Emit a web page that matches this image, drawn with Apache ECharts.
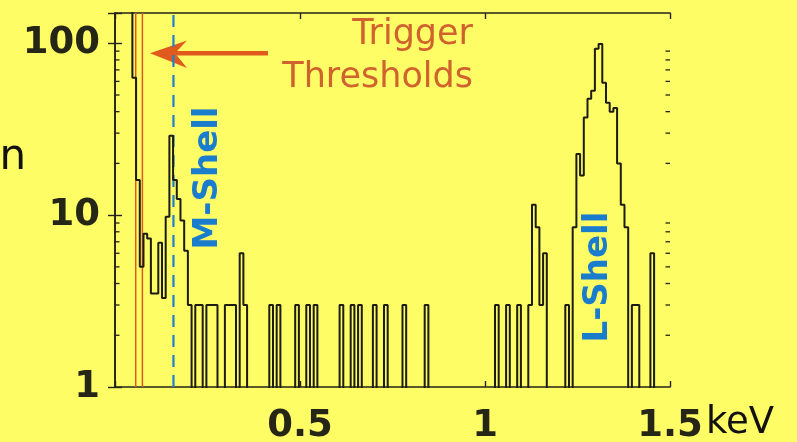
<!DOCTYPE html>
<html>
<head>
<meta charset="utf-8">
<script src="https://cdn.jsdelivr.net/npm/echarts@6/dist/echarts.min.js"></script>
<style>
  html, body { margin: 0; padding: 0; background: #fffd66; }
  #chart { width: 797px; height: 442px; }
</style>
</head>
<body>
<div id="chart"></div>
<script>
// Energy spectrum: counts per 10 eV bin, plotted on a log axis.
const binStartKeV = 0.037;   // left edge of the first bin
const binWidthKeV = 0.01;
const counts = [
  250, 63, 16, 5, 7.8, 7.3, 3.5, 3.5, 6.9, 3.3,          // 0.037 ..
  9.8, 29, 16, 12.4, 9.3, 6.2, 3, 0, 3, 3,               // 0.137 ..
  0, 3, 3, 3, 0, 0, 3, 3, 3, 0,                          // 0.237 ..
  6, 3, 0, 0, 0, 0, 0, 0, 3, 0,                          // 0.337 ..
  3, 0, 0, 0, 0, 3, 0, 0, 3, 0,                          // 0.437 ..
  3, 0, 0, 0, 0, 0, 0, 3, 0, 0,                          // 0.537 ..
  3, 0, 3, 0, 0, 0, 3, 0, 0, 3,                          // 0.637 ..
  0, 0, 0, 0, 3, 0, 0, 0, 0, 0,                          // 0.737 ..
  3, 0, 0, 0, 0, 0, 0, 0, 0, 0,                          // 0.837 ..
  0, 0, 0, 0, 0, 0, 0, 0, 0, 3,                          // 0.937 ..
  0, 0, 3, 0, 0, 3, 0, 0, 3, 11.5,                       // 1.037 ..
  8.5, 3, 6, 0, 0, 0, 0, 0, 3, 0,                        // 1.137 ..
  8.5, 22.7, 17, 37, 47.6, 53, 93, 99, 59, 45,           // 1.237 ..
  40, 42, 20, 11.5, 8.5, 0, 3, 3, 0, 0,                  // 1.337 ..
  0, 6, 0, 0, 0, 0                                       // 1.437 ..
];

const triggerThresholdsKeV = [0.056, 0.074];
const mShellKeV = 0.158;

const xRange = [0, 1.5];
const yRange = [1, 150];
const yMajorTicks = [1, 10, 100];
const yMinorTicks = [2, 3, 4, 5, 6, 7, 8, 9, 20, 30, 40, 50, 60, 70, 80, 90];

// empty bins sit below the log axis and are clipped by the grid
const LOG_FLOOR = 0.3;

const edges = counts.map((_, i) => binStartKeV + i * binWidthKeV);
const stairs = counts.map((c, i) => [edges[i], c > 0 ? c : LOG_FLOOR]);
stairs.push([binStartKeV + counts.length * binWidthKeV, LOG_FLOOR]);

const AXIS_COLOR = '#23231a';
const TICK_FONT = { fontFamily: 'DejaVu Sans', fontWeight: 'bold', fontSize: 37, color: '#262617' };

const chart = echarts.init(document.getElementById('chart'), null, { renderer: 'canvas' });

const axisCommon = {
  axisLine: { show: true, lineStyle: { color: AXIS_COLOR, width: 1.6 } },
  splitLine: { show: false },
};

chart.setOption({
  backgroundColor: '#fffd66',
  animation: false,
  grid: { left: 115, right: 127, top: 13, bottom: 55, containLabel: false, outerBoundsMode: 'none' },
  xAxis: [
    Object.assign({
      type: 'value', min: xRange[0], max: xRange[1], interval: 0.5,
      axisTick: { show: true, inside: true, length: 6, lineStyle: { color: AXIS_COLOR, width: 1.4 } },
      axisLabel: Object.assign({
        margin: 21,
        formatter: v => (v === 0 ? '' : String(v))
      }, TICK_FONT),
    }, axisCommon),
    Object.assign({
      type: 'value', position: 'top', min: xRange[0], max: xRange[1], interval: 0.5,
      axisTick: { show: true, inside: true, length: 6, lineStyle: { color: AXIS_COLOR, width: 1.4 } },
      axisLabel: { show: false },
    }, axisCommon)
  ],
  yAxis: [
    Object.assign({
      type: 'log', logBase: 10, min: yRange[0], max: yRange[1],
      axisTick: { show: true, inside: true, length: 7, lineStyle: { color: AXIS_COLOR, width: 1.4 } },
      axisLabel: Object.assign({
        margin: 15,
        formatter: v => {
          const r = Math.round(v);
          return (Math.abs(v - r) < 1e-6 && yMajorTicks.includes(r)) ? String(r) : '';
        }
      }, TICK_FONT),
    }, axisCommon),
    Object.assign({
      type: 'log', logBase: 10, position: 'right', min: yRange[0], max: yRange[1],
      axisTick: { show: true, inside: true, length: 7, lineStyle: { color: AXIS_COLOR, width: 1.4 } },
      axisLabel: { show: false },
    }, axisCommon)
  ],
  series: [
    // trigger threshold markers
    ...triggerThresholdsKeV.map(e => ({
      type: 'line', xAxisIndex: 0, yAxisIndex: 0, z: 2,
      data: [[e, yRange[0]], [e, yRange[1]]],
      showSymbol: false, silent: true,
      lineStyle: { color: '#dd5a22', width: 1.5 }
    })),
    // M-shell marker
    {
      type: 'line', xAxisIndex: 0, yAxisIndex: 0, z: 2,
      data: [[mShellKeV, yRange[0]], [mShellKeV, yRange[1]]],
      showSymbol: false, silent: true,
      lineStyle: { color: '#1f7fd0', width: 2.2, type: [12, 8] }
    },
    // histogram outline
    {
      type: 'line', xAxisIndex: 0, yAxisIndex: 0, z: 3,
      step: 'end', data: stairs, showSymbol: false, silent: true, clip: true,
      lineStyle: { color: '#1c1c12', width: 2 }
    },
    // minor ticks on the log axes
    {
      type: 'custom', xAxisIndex: 0, yAxisIndex: 0, z: 4, silent: true, clip: false,
      data: yMinorTicks.map(v => [xRange[0], v]),
      renderItem: (params, api) => {
        const v = api.value(1);
        const l = api.coord([xRange[0], v]);
        const r = api.coord([xRange[1], v]);
        const st = { stroke: AXIS_COLOR, lineWidth: 1.3 };
        return {
          type: 'group',
          children: [
            { type: 'line', shape: { x1: l[0], y1: l[1], x2: l[0] + 4.5, y2: l[1] }, style: st },
            { type: 'line', shape: { x1: r[0], y1: r[1], x2: r[0] - 4.5, y2: r[1] }, style: st }
          ]
        };
      }
    }
  ],
  graphic: [
    { type: 'text', x: 26, y: 158,
      style: { text: 'n', font: '42px "DejaVu Sans"', fill: '#111', align: 'right', verticalAlign: 'middle' } },
    { type: 'text', x: 473, y: 35,
      style: { text: 'Trigger', font: '35px "DejaVu Sans"', fill: '#d0632d', align: 'right', verticalAlign: 'middle' } },
    { type: 'text', x: 473, y: 78,
      style: { text: 'Thresholds', font: '35px "DejaVu Sans"', fill: '#d0632d', align: 'right', verticalAlign: 'middle' } },
    // arrow pointing at the threshold lines
    { type: 'rect', shape: { x: 172, y: 51, width: 96, height: 4.6 }, style: { fill: '#e05a1e' } },
    { type: 'polygon', shape: { points: [[150, 53.3], [187, 40.5], [175, 53.3], [187, 68]] }, style: { fill: '#e05a1e' } },
    { type: 'text', x: 208, y: 178, rotation: Math.PI / 2,
      style: { text: 'M-Shell', font: 'bold 34px "DejaVu Sans"', fill: '#1a7ccc', align: 'center', verticalAlign: 'middle' } },
    { type: 'text', x: 598, y: 277, rotation: Math.PI / 2,
      style: { text: 'L-Shell', font: 'bold 34px "DejaVu Sans"', fill: '#1a7ccc', align: 'center', verticalAlign: 'middle' } },
    { type: 'text', x: 706, y: 423,
      style: { text: 'keV', font: '37px "DejaVu Sans"', fill: '#111', align: 'left', verticalAlign: 'middle' } }
  ]
});
</script>
</body>
</html>
